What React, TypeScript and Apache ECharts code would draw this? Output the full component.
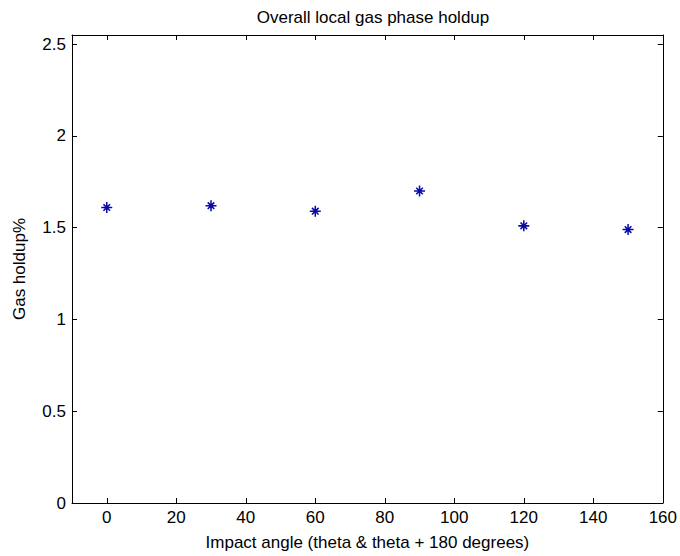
import React, { useEffect, useRef } from "react";
import * as echarts from "echarts";

const angles = [0, 30, 60, 90, 120, 150];
const holdup = [1.61, 1.62, 1.59, 1.70, 1.51, 1.49];
const xTicks = [0, 20, 40, 60, 80, 100, 120, 140, 160];
const yTicks = [0, 0.5, 1, 1.5, 2, 2.5];
const titleText = "Overall local gas phase holdup";
const xName = "Impact angle (theta & theta + 180 degrees)";
const yName = "Gas holdup%";

const FONT = "'Liberation Sans', Arial, sans-serif";
const FS = 17;

const asterisk =
  "path://M4.3 0h1.4v10h-1.4z M0 4.3h10v1.4h-10z M1.5 2.5L2.5 1.5L8.5 7.5L7.5 8.5Z M7.5 1.5L8.5 2.5L2.5 8.5L1.5 7.5Z";

export default function App() {
  const ref = useRef<HTMLDivElement>(null);
  useEffect(() => {
    if (!ref.current) return;
    const chart = echarts.init(ref.current, undefined, { renderer: "svg" });
    const axisCommon = {
      axisLine: { show: true, onZero: false, lineStyle: { color: "#000", width: 1 } },
      splitLine: { show: false },
    };
    chart.setOption({
      animation: false,
      backgroundColor: "#fff",
      title: {
        text: titleText,
        left: 368,
        textAlign: "center",
        top: 4,
        textStyle: { fontFamily: FONT, fontSize: FS, fontWeight: "normal", color: "#000" },
      },
      grid: { left: 72, right: 15, top: 35, bottom: 52 },
      xAxis: [
        {
          type: "value",
          min: -10,
          max: 160,
          ...axisCommon,
          axisTick: { show: true, inside: true, length: 5, customValues: xTicks, lineStyle: { color: "#000" } },
          axisLabel: { customValues: xTicks, color: "#000", fontFamily: FONT, fontSize: FS, margin: 6 },
          name: xName,
          nameLocation: "middle",
          nameGap: 31,
          nameTextStyle: { fontFamily: FONT, fontSize: FS, color: "#000" },
        },
        {
          type: "value",
          position: "top",
          min: -10,
          max: 160,
          ...axisCommon,
          axisTick: { show: true, inside: true, length: 5, customValues: xTicks, lineStyle: { color: "#000" } },
          axisLabel: { show: false },
        },
      ],
      yAxis: [
        {
          type: "value",
          min: 0,
          max: 2.55,
          ...axisCommon,
          axisTick: { show: true, inside: true, length: 5, customValues: yTicks, lineStyle: { color: "#000" } },
          axisLabel: { customValues: yTicks, color: "#000", fontFamily: FONT, fontSize: FS, margin: 6 },
          name: yName,
          nameLocation: "middle",
          nameGap: 44,
          nameTextStyle: { fontFamily: FONT, fontSize: FS, color: "#000" },
        },
        {
          type: "value",
          position: "right",
          min: 0,
          max: 2.55,
          ...axisCommon,
          axisTick: { show: true, inside: true, length: 5, customValues: yTicks, lineStyle: { color: "#000" } },
          axisLabel: { show: false },
        },
      ],
      series: [
        {
          type: "scatter",
          data: angles.map((a, i) => [a, holdup[i]]),
          symbol: asterisk,
          symbolSize: 11,
          itemStyle: { color: "#0a0aa8", opacity: 1 },
        },
      ],
    });
    return () => chart.dispose();
  }, []);
  return <div ref={ref} style={{ width: 680, height: 556, position: "absolute", left: 0, top: 0 }} />;
}
